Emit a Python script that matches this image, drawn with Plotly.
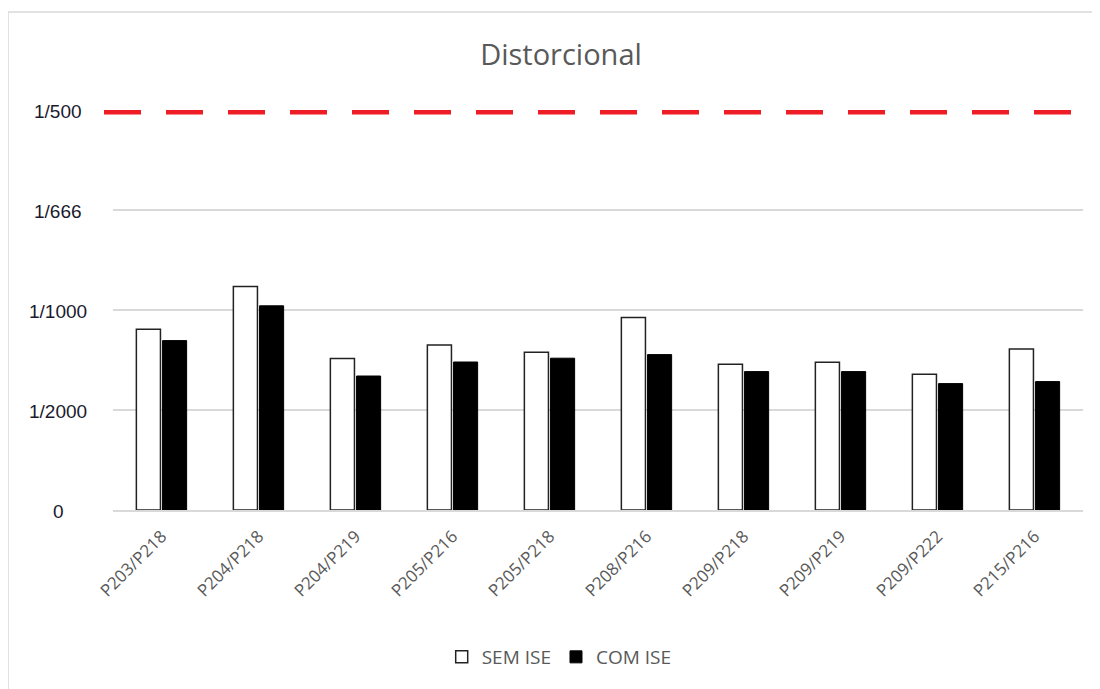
import plotly.graph_objects as go

categories = ["P203/P218", "P204/P218", "P204/P219", "P205/P216", "P205/P218",
              "P208/P216", "P209/P218", "P209/P219", "P209/P222", "P215/P216"]
sem_ise = [0.000904, 0.001118, 0.000757, 0.000825, 0.000789,
           0.000962, 0.000729, 0.000739, 0.000679, 0.000805]
com_ise = [0.000847, 0.001021, 0.000670, 0.000740, 0.000759,
           0.000777, 0.000692, 0.000692, 0.000632, 0.000642]
tick_vals = [0, 0.0005, 0.001, 0.0015, 0.002]
tick_text = ["0", "1/2000", "1/1000", "1/666", "1/500"]
limit = 1 / 500

# page body has an 8px margin, so the figure is drawn 8px smaller
W, H = 1092, 681
ML, MR, MT, MB = 105, 17, 102, 179
PW, PH = W - ML - MR, H - MT - MB

fig = go.Figure()
fig.add_trace(go.Bar(name="SEM ISE", x=categories, y=sem_ise,
                     marker=dict(color="white", line=dict(color="#222222", width=1.5))))
fig.add_trace(go.Bar(name="COM ISE", x=categories, y=com_ise,
                     marker=dict(color="black", line=dict(color="black", width=1))))

# limit line 1/500
fig.add_shape(type="line", xref="paper", yref="y", x0=-9 / PW, x1=1 + 2 / PW, y0=limit, y1=limit,
              line=dict(color="#ee1c25", width=9, dash="37px,25px"), layer="above")

# chart border (top and left edges)
fig.add_shape(type="line", xref="paper", yref="paper",
              x0=-ML / PW, x1=(W - ML) / PW, y0=1 + (MT - 4) / PH, y1=1 + (MT - 4) / PH,
              line=dict(color="#d9d9d9", width=1.5))
fig.add_shape(type="line", xref="paper", yref="paper",
              x0=-ML / PW, x1=-ML / PW, y0=1 + (MT - 4) / PH, y1=-MB / PH,
              line=dict(color="#d9d9d9", width=1.5))

# y tick labels, centered like the original
for v, t in zip(tick_vals, tick_text):
    fig.add_annotation(x=-55 / PW, xref="paper", y=v, yref="y", text=t, showarrow=False,
                       xanchor="center", yanchor="middle", yshift=-1,
                       font=dict(family="Liberation Sans", size=19, color="#1a1a2e"))

fig.update_layout(
    width=W, height=H,
    margin=dict(l=ML, r=MR, t=MT, b=MB),
    paper_bgcolor="white", plot_bgcolor="white",
    title=dict(text="Distorcional", x=553 / W, xanchor="center",
               y=1 - 47 / H, yanchor="middle",
               font=dict(family="Open Sans, Liberation Sans", size=29, color="#595959")),
    barmode="group", bargap=0.46, bargroupgap=0.08,
    font=dict(family="Open Sans, Liberation Sans", color="#595959"),
    showlegend=True,
    legend=dict(orientation="h", x=0.46, xanchor="center", y=-147 / PH, yanchor="middle",
                font=dict(size=19, color="#595959"), traceorder="normal",
                itemwidth=30),
)
fig.update_xaxes(tickangle=-45, tickfont=dict(size=17, color="#595959"),
                 showline=True, linecolor="#d9d9d9", linewidth=1.5, ticks="outside",
                 ticklen=8, tickcolor="white", showgrid=False)
fig.update_yaxes(range=[0, 0.002], tickvals=tick_vals, showticklabels=False,
                 showgrid=True, gridcolor="#d9d9d9", gridwidth=1.5, zeroline=False)

fig.write_html("out.html")
